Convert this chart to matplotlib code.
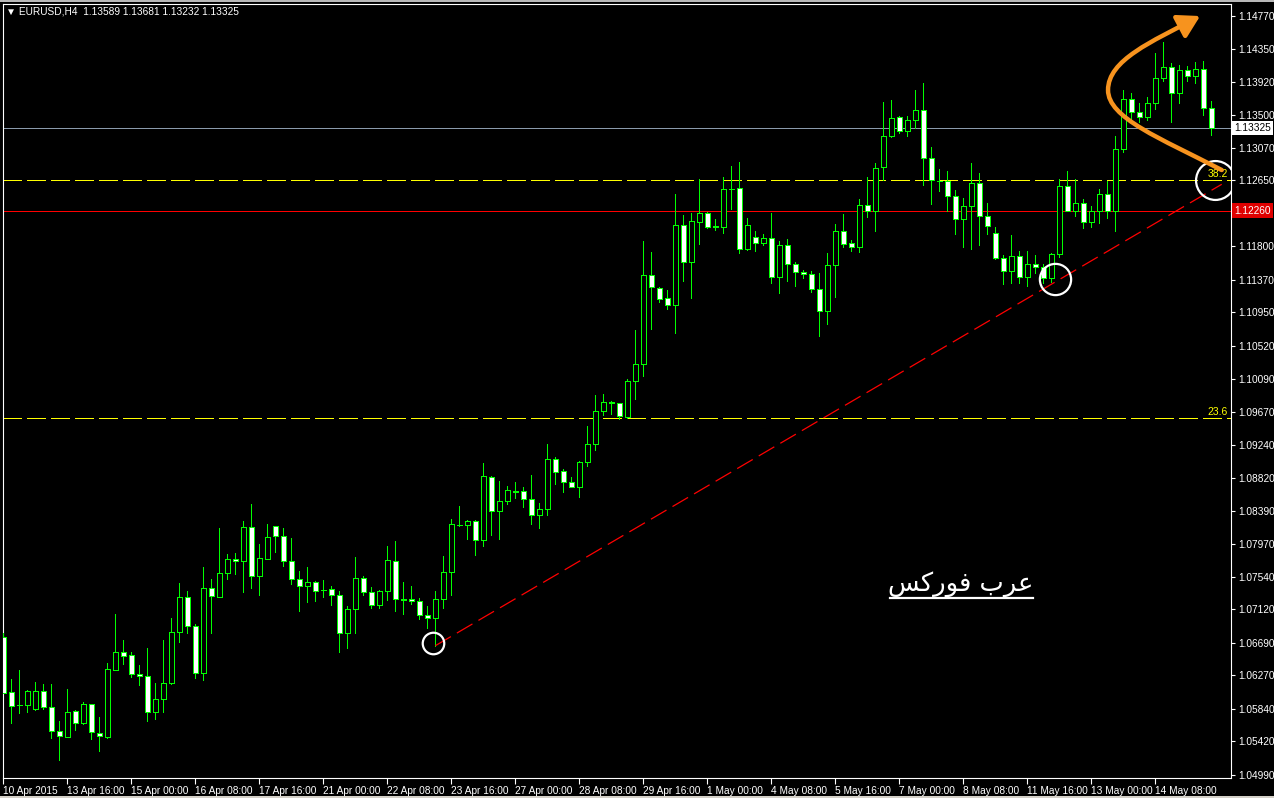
import matplotlib
matplotlib.use('Agg')
import matplotlib.pyplot as plt
from matplotlib.patches import FancyArrowPatch, Rectangle
from matplotlib.path import Path
from matplotlib.lines import Line2D
import numpy as np

plt.rcParams['font.family'] = ['Liberation Sans', 'DejaVu Sans']
plt.rcParams['lines.scale_dashes'] = False

# EURUSD H4 bars, 10 Apr 2015 08:00 .. 14 May 2015
opens = [
    1.06769, 1.06052, 1.05892, 1.05892, 1.05833, 1.06073, 1.05859, 1.05550, 1.05480, 1.05807,
    1.05653, 1.05898, 1.05531, 1.05476, 1.06344, 1.06568, 1.06529, 1.06284, 1.06258, 1.05794,
    1.05962, 1.06168, 1.06826, 1.07277, 1.06903, 1.06297, 1.07393, 1.07277, 1.07594, 1.07767,
    1.07741, 1.08179, 1.07548, 1.07774, 1.08192, 1.08063, 1.07741, 1.07509, 1.07419, 1.07470,
    1.07371, 1.07380, 1.07303, 1.06813, 1.07122, 1.07522, 1.07341, 1.07174, 1.07358, 1.07741,
    1.07246, 1.07251, 1.07225, 1.07045, 1.07006, 1.07251, 1.07607, 1.08213, 1.08213, 1.08256,
    1.08019, 1.08824, 1.08393, 1.08514, 1.08643, 1.08643, 1.08540, 1.08334, 1.08411, 1.09056,
    1.08901, 1.08759, 1.08697, 1.09017, 1.09249, 1.09674, 1.09790, 1.09777, 1.09605, 1.10061,
    1.10280, 1.11427, 1.11264, 1.11131, 1.11048, 1.12072, 1.11603, 1.12118, 1.12230, 1.12059,
    1.12054, 1.12544, 1.12549, 1.11763, 1.11917, 1.11848, 1.11904, 1.11402, 1.11814, 1.11569,
    1.11466, 1.11440, 1.11247, 1.10963, 1.11556, 1.11998, 1.11840, 1.11788, 1.12330, 1.12260,
    1.12819, 1.13219, 1.13464, 1.13287, 1.13425, 1.13554, 1.12936, 1.12647, 1.12647, 1.12450,
    1.12149, 1.12321, 1.12613, 1.12192, 1.11969, 1.11647, 1.11479, 1.11672, 1.11402, 1.11569,
    1.11531, 1.11389, 1.11698, 1.12575, 1.12260, 1.12355, 1.12111, 1.12260, 1.12471, 1.12260,
    1.13052, 1.13696, 1.13528, 1.13464, 1.13644, 1.13967, 1.14108, 1.13773, 1.14078, 1.13998,
    1.14090, 1.13589]
highs = [
    1.06813, 1.06224, 1.06340, 1.06082, 1.06185, 1.06159, 1.06159, 1.05682, 1.06095, 1.05824,
    1.05927, 1.05900, 1.05734, 1.06430, 1.07062, 1.06726, 1.06572, 1.06404, 1.06623, 1.06172,
    1.06726, 1.07010, 1.07461, 1.07358, 1.06933, 1.07667, 1.07513, 1.08170, 1.07835, 1.07848,
    1.08256, 1.08479, 1.07964, 1.08222, 1.08195, 1.08170, 1.08041, 1.07616, 1.07667, 1.07487,
    1.07500, 1.07422, 1.07358, 1.07165, 1.07796, 1.07551, 1.07406, 1.07375, 1.07938, 1.08003,
    1.07474, 1.07422, 1.07268, 1.07165, 1.07358, 1.07809, 1.08286, 1.08454, 1.08273, 1.08273,
    1.09005, 1.08836, 1.08776, 1.08711, 1.08763, 1.08699, 1.08853, 1.08492, 1.09253, 1.09085,
    1.08927, 1.08827, 1.09030, 1.09485, 1.09888, 1.09897, 1.09811, 1.09780, 1.10091, 1.10722,
    1.11870, 1.11728, 1.11280, 1.11238, 1.12475, 1.12205, 1.12230, 1.12665, 1.12243, 1.12153,
    1.12691, 1.12836, 1.12888, 1.12166, 1.11998, 1.11960, 1.12230, 1.11870, 1.11895, 1.11599,
    1.11496, 1.11483, 1.11457, 1.11715, 1.12089, 1.12218, 1.11882, 1.12411, 1.12694, 1.12875,
    1.13661, 1.13683, 1.13481, 1.13481, 1.13816, 1.13906, 1.13077, 1.12798, 1.12768, 1.12527,
    1.12428, 1.12875, 1.12742, 1.12355, 1.12050, 1.11689, 1.11947, 1.11741, 1.11741, 1.11689,
    1.11573, 1.11719, 1.12665, 1.12772, 1.12665, 1.12407, 1.12321, 1.12536, 1.12643, 1.13223,
    1.13816, 1.13773, 1.13644, 1.13722, 1.14293, 1.14435, 1.14164, 1.14138, 1.14125, 1.14177,
    1.14190, 1.13681]
lows = [
    1.06043, 1.05660, 1.05782, 1.05798, 1.05830, 1.05833, 1.05463, 1.05183, 1.05472, 1.05566,
    1.05650, 1.05446, 1.05299, 1.05463, 1.06340, 1.06421, 1.06253, 1.06146, 1.05686, 1.05708,
    1.05798, 1.06163, 1.06704, 1.06820, 1.06240, 1.06215, 1.06820, 1.07275, 1.07517, 1.07581,
    1.07349, 1.07401, 1.07310, 1.07767, 1.07865, 1.07684, 1.07452, 1.07104, 1.07220, 1.07233,
    1.07285, 1.07181, 1.06576, 1.06627, 1.06820, 1.07303, 1.07143, 1.07143, 1.07246, 1.07104,
    1.07065, 1.07194, 1.06993, 1.06885, 1.06653, 1.07143, 1.07306, 1.08200, 1.08028, 1.07822,
    1.07942, 1.08080, 1.08028, 1.08483, 1.08557, 1.08445, 1.08222, 1.08174, 1.08342, 1.08741,
    1.08638, 1.08695, 1.08574, 1.08973, 1.09172, 1.09623, 1.09643, 1.09571, 1.09584, 1.09837,
    1.10133, 1.10739, 1.11083, 1.10997, 1.10687, 1.11358, 1.11139, 1.11835, 1.12037, 1.12015,
    1.11976, 1.12286, 1.11719, 1.11760, 1.11744, 1.11822, 1.11332, 1.11203, 1.11358, 1.11293,
    1.11396, 1.11216, 1.10649, 1.10804, 1.11152, 1.11796, 1.11744, 1.11732, 1.12183, 1.12002,
    1.12656, 1.13215, 1.13258, 1.13223, 1.13322, 1.12595, 1.12350, 1.12518, 1.12256, 1.11964,
    1.11796, 1.11770, 1.11822, 1.11956, 1.11634, 1.11311, 1.11332, 1.11332, 1.11289, 1.11453,
    1.11324, 1.11345, 1.11659, 1.12260, 1.12192, 1.12041, 1.12054, 1.12105, 1.12170, 1.12002,
    1.13021, 1.13387, 1.13407, 1.13429, 1.13575, 1.13932, 1.13407, 1.13652, 1.13936, 1.13910,
    1.13498, 1.13232]
closes = [
    1.06047, 1.05880, 1.05895, 1.06065, 1.06065, 1.05859, 1.05550, 1.05485, 1.05794, 1.05653,
    1.05898, 1.05537, 1.05485, 1.06349, 1.06568, 1.06524, 1.06284, 1.06258, 1.05794, 1.05962,
    1.06168, 1.06826, 1.07277, 1.06903, 1.06297, 1.07393, 1.07290, 1.07586, 1.07767, 1.07741,
    1.08179, 1.07548, 1.07780, 1.08050, 1.08063, 1.07741, 1.07509, 1.07419, 1.07470, 1.07354,
    1.07368, 1.07303, 1.06813, 1.07122, 1.07522, 1.07341, 1.07174, 1.07358, 1.07754, 1.07251,
    1.07249, 1.07225, 1.07045, 1.07006, 1.07251, 1.07603, 1.08222, 1.08210, 1.08256, 1.08019,
    1.08836, 1.08393, 1.08514, 1.08656, 1.08640, 1.08540, 1.08334, 1.08411, 1.09056, 1.08896,
    1.08759, 1.08697, 1.09017, 1.09249, 1.09674, 1.09790, 1.09787, 1.09610, 1.10061, 1.10280,
    1.11427, 1.11273, 1.11126, 1.11048, 1.12072, 1.11603, 1.12127, 1.12230, 1.12054, 1.12056,
    1.12536, 1.12541, 1.11763, 1.12072, 1.11848, 1.11904, 1.11402, 1.11814, 1.11569, 1.11466,
    1.11440, 1.11247, 1.10963, 1.11556, 1.11998, 1.11827, 1.11788, 1.12330, 1.12260, 1.12807,
    1.13219, 1.13451, 1.13291, 1.13425, 1.13554, 1.12936, 1.12656, 1.12644, 1.12450, 1.12149,
    1.12321, 1.12613, 1.12192, 1.12063, 1.11647, 1.11479, 1.11672, 1.11402, 1.11573, 1.11531,
    1.11389, 1.11698, 1.12575, 1.12263, 1.12355, 1.12111, 1.12260, 1.12471, 1.12260, 1.13052,
    1.13696, 1.13528, 1.13464, 1.13644, 1.13967, 1.14108, 1.13773, 1.14070, 1.13998, 1.14090,
    1.13589, 1.13325]

time_labels = ['10 Apr 2015', '13 Apr 16:00', '15 Apr 00:00', '16 Apr 08:00', '17 Apr 16:00',
               '21 Apr 00:00', '22 Apr 08:00', '23 Apr 16:00', '27 Apr 00:00', '28 Apr 08:00',
               '29 Apr 16:00', '1 May 00:00', '4 May 08:00', '5 May 16:00', '7 May 00:00',
               '8 May 08:00', '11 May 16:00', '13 May 00:00', '14 May 08:00']
price_ticks = [1.14770, 1.14350, 1.13920, 1.13500, 1.13070, 1.12650, 1.12230, 1.11800,
               1.11370, 1.10950, 1.10520, 1.10090, 1.09670, 1.09240, 1.08820, 1.08390,
               1.07970, 1.07540, 1.07120, 1.06690, 1.06270, 1.05840, 1.05420, 1.04990]

bid = 1.13325
alert_level = 1.12260
fib_levels = {'38.2': 1.12660, '23.6': 1.09588}
trend_bars = [54, 152.3]
trend_prices = [1.06653, 1.12601]
# (bar, price, diameter in points)
circles = [(53.7, 1.06693, 15.5), (131.4, 1.11380, 22.5), (151.5, 1.12656, 28.0)]

LIME = '#00ff00'
PX = 0.72  # one pixel at 100 dpi, in points
W, H = 1274, 798

fig = plt.figure(figsize=(W / 100, H / 100), dpi=100, facecolor='black')
ax = fig.add_axes([2.5 / W, 20 / H, (1231 - 2.5) / W, (778 - 4) / H], facecolor='black')
ax.set_xlim(-0.1, 153.46)
ax.set_ylim(1.04948, 1.14925)

o = np.array(opens)
h = np.array(highs)
l = np.array(lows)
c = np.array(closes)
x = np.arange(len(o))

# wicks then bodies: bears filled white, bulls hollow
ax.vlines(x, l, h, color=LIME, lw=PX, zorder=3, antialiased=False)
faces = np.where(c < o, 'white', 'black')
ax.bar(x, np.abs(c - o), bottom=np.minimum(o, c), width=0.62, color=faces,
       edgecolor=LIME, linewidth=PX, zorder=4, antialiased=False)

# price lines
ax.axhline(bid, color='#8a9aab', lw=PX, zorder=2, antialiased=False)
ax.axhline(alert_level, color='#ff0000', lw=PX, zorder=2, antialiased=False)
for name, lvl in fib_levels.items():
    ax.axhline(lvl, color='#ffff00', lw=PX, ls=(0, (13, 4.3)), zorder=2, antialiased=False)
    ax.text(153.1, lvl + 0.00012, name, color='#ffff00', fontsize=7.5,
            ha='right', va='bottom', zorder=6)

ax.plot(trend_bars, trend_prices, color='#ff0000', lw=0.9, ls=(0, (13, 5)), zorder=5)

for cb, cp, d in circles:
    ax.plot(cb, cp, 'o', ms=d, mfc='none', mec='white', mew=1.6, zorder=7)

# orange swing arrow
verts = [(152.3, 1.12785), (144.59, 1.13197), (138.09, 1.13455), (138.09, 1.13816),
         (138.09, 1.14203), (143.55, 1.14440), (149.6, 1.14770)]
codes = [Path.MOVETO] + [Path.CURVE4] * 6
arrow = FancyArrowPatch(path=Path(verts, codes), arrowstyle='-|>,head_length=0.65,head_width=0.38',
                        mutation_scale=20, color='#f7931e', lw=3.2, zorder=8,
                        transform=ax.transData)
ax.add_patch(arrow)

# axes styling
for s in ax.spines.values():
    s.set_color('white')
    s.set_linewidth(0.8)
ax.yaxis.tick_right()
ax.set_yticks(price_ticks)
# the 1.12230 label sits under the alert box
ax.set_yticklabels(['' if abs(v - alert_level) < 0.0004 else f'{v:.5f}' for v in price_ticks])
ax.set_xticks(range(0, len(o), 8))
ax.set_xticklabels(time_labels, ha='left')
ax.tick_params(axis='y', colors='white', labelcolor='white', labelsize=7.3, length=3, width=0.8, pad=2)
ax.tick_params(axis='x', colors='white', labelcolor='white', labelsize=7.3, length=4, width=0.8, pad=1.5)

ytr = ax.get_yaxis_transform()
ax.text(1.0025, bid, f'{bid:.5f}', transform=ytr, color='black', fontsize=7.3, ha='left', va='center',
        bbox=dict(boxstyle='square,pad=0.2', facecolor='white', edgecolor='none'), zorder=9,
        clip_on=False)
ax.text(1.0025, alert_level, f'{alert_level:.5f}', transform=ytr, color='white', fontsize=7.3,
        ha='left', va='center', bbox=dict(boxstyle='square,pad=0.25', facecolor='#e00000',
                                          edgecolor='none'), zorder=9, clip_on=False)

fig.text(6 / W, 1 - 12 / H, '\u25bc EURUSD,H4  1.13589 1.13681 1.13232 1.13325',
         color='white', fontsize=7.3, va='center', ha='left')

# watermark "عرب فوركس" written in presentation forms, visual order
fig.text(961 / W, 1 - 584 / H, '\ufeb2\ufedb\ufead\ufeee\ufed3 \ufe8f\ufeae\ufecb',
         family='DejaVu Sans', color='white', fontsize=18.5, ha='center', va='center')
fig.add_artist(Line2D([890 / W, 1033 / W], [1 - 598 / H] * 2, color='white', lw=1.6))

# window border strips
fig.add_artist(Rectangle((0, 1 - 2 / H), 1, 2 / H, transform=fig.transFigure,
                         facecolor='#b8b8b8', edgecolor='none'))
fig.add_artist(Rectangle((0, 0), 1, 2 / H, transform=fig.transFigure,
                         facecolor='#d4d0c8', edgecolor='none'))

fig.savefig('out.png', dpi=100, facecolor='black')
